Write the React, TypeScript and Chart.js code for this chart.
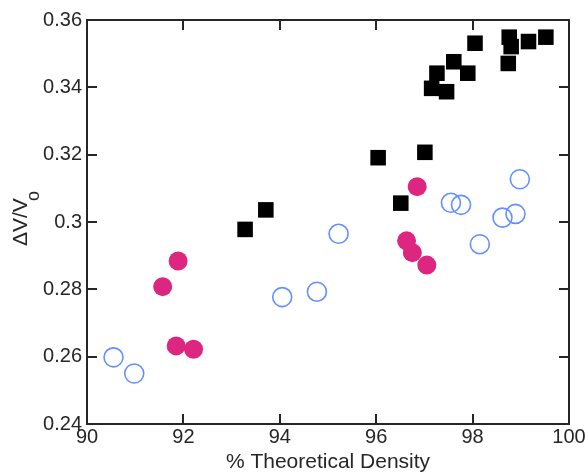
import React, { useEffect, useRef } from "react";
import { Chart, registerables } from "chart.js";

Chart.register(...registerables);

// Dense (black squares)
const squareX = [93.28, 93.71, 96.04, 96.51, 97.01, 97.15, 97.26, 97.46, 97.61, 97.90, 98.05, 98.74, 98.76, 98.80, 99.16, 99.52];
const squareY = [0.2978, 0.3036, 0.3191, 0.3056, 0.3207, 0.3397, 0.3442, 0.3387, 0.3476, 0.3442, 0.3531, 0.3471, 0.3549, 0.3521, 0.3536, 0.3549];

// Pink filled circles
const pinkX = [91.57, 91.89, 91.85, 92.21, 96.63, 96.75, 97.05, 96.85];
const pinkY = [0.2808, 0.2884, 0.2632, 0.2622, 0.2944, 0.2909, 0.2872, 0.3105];

// Blue open circles
const blueX = [90.55, 90.98, 94.05, 94.77, 95.22, 97.55, 97.76, 98.15, 98.62, 98.89, 98.98];
const blueY = [0.2598, 0.2550, 0.2777, 0.2793, 0.2965, 0.3057, 0.3051, 0.2934, 0.3013, 0.3024, 0.3127];

const xTicks = [90, 92, 94, 96, 98, 100];
const yTicks = [0.24, 0.26, 0.28, 0.3, 0.32, 0.34, 0.36];

const xTitle = "% Theoretical Density";
const yTitleMain = "ΔV/V";
const yTitleSub = "o";

const FONT = '"Liberation Sans", Arial, Helvetica, sans-serif';
const AXIS = "#262626";

const toPts = (xs: number[], ys: number[]) => xs.map((x, i) => ({ x, y: ys[i] }));

const framePlugin = {
  id: "frame",
  beforeDatasetsDraw(chart: any) {
    const { ctx, chartArea, scales } = chart;
    const { left, right, top, bottom } = chartArea;
    const xs = scales.x;
    const ys = scales.y;
    const tl = 10;
    ctx.save();
    ctx.strokeStyle = AXIS;
    ctx.lineWidth = 2;
    ctx.beginPath();
    xTicks.forEach((v) => {
      const px = Math.round(xs.getPixelForValue(v));
      ctx.moveTo(px, bottom);
      ctx.lineTo(px, bottom - tl);
      ctx.moveTo(px, top);
      ctx.lineTo(px, top + tl);
    });
    yTicks.forEach((v) => {
      const py = Math.round(ys.getPixelForValue(v));
      ctx.moveTo(left, py);
      ctx.lineTo(left + tl, py);
      ctx.moveTo(right, py);
      ctx.lineTo(right - tl, py);
    });
    ctx.stroke();
    ctx.strokeRect(left, top, right - left, bottom - top);
    ctx.restore();
  },
  afterDraw(chart: any) {
    const { ctx } = chart;
    ctx.save();
    ctx.translate(27, 246);
    ctx.rotate(-Math.PI / 2);
    ctx.fillStyle = AXIS;
    ctx.textAlign = "left";
    ctx.textBaseline = "alphabetic";
    ctx.font = `21px ${FONT}`;
    ctx.fillText(yTitleMain, 0, 0);
    const w = ctx.measureText(yTitleMain).width;
    ctx.font = `18px ${FONT}`;
    ctx.fillText(yTitleSub, w - 3, 12);
    ctx.restore();
  },
};

export default function App() {
  const ref = useRef<HTMLCanvasElement | null>(null);
  useEffect(() => {
    document.body.style.margin = "0";
    const canvas = ref.current;
    if (!canvas) return;
    const chart = new Chart(canvas, {
      type: "scatter",
      data: {
        datasets: [
          {
            label: "squares",
            data: toPts(squareX, squareY),
            pointStyle: "rect",
            pointRadius: 11,
            backgroundColor: "#000000",
            borderColor: "#000000",
            borderWidth: 0,
          },
          {
            label: "blue",
            data: toPts(blueX, blueY),
            pointStyle: "circle",
            pointRadius: 9.5,
            backgroundColor: "rgba(0,0,0,0)",
            borderColor: "#648fff",
            borderWidth: 1.6,
          },
          {
            label: "pink",
            data: toPts(pinkX, pinkY),
            pointStyle: "circle",
            pointRadius: 9.5,
            backgroundColor: "#dc267f",
            borderColor: "#dc267f",
            borderWidth: 0,
          },
        ],
      },
      options: {
        responsive: false,
        animation: false,
        devicePixelRatio: 1,
        events: [],
        layout: { padding: { top: 20, right: 19, left: 0, bottom: 0 } },
        plugins: {
          legend: { display: false },
          tooltip: { enabled: false },
        },
        scales: {
          x: {
            type: "linear",
            min: 90,
            max: 100,
            afterBuildTicks: (s: any) => {
              s.ticks = xTicks.map((v) => ({ value: v }));
            },
            afterFit: (s: any) => {
              s.height = 51;
            },
            grid: { display: false, drawTicks: false },
            border: { display: false },
            ticks: {
              padding: 1,
              color: AXIS,
              font: { family: FONT, size: 20 },
              maxRotation: 0,
              callback: (v: any) => String(v),
            },
            title: {
              display: true,
              text: xTitle,
              color: AXIS,
              font: { family: FONT, size: 21 },
              padding: { top: 0, bottom: 0 },
            },
          },
          y: {
            type: "linear",
            min: 0.24,
            max: 0.36,
            afterBuildTicks: (s: any) => {
              s.ticks = yTicks.map((v) => ({ value: v }));
            },
            afterFit: (s: any) => {
              s.width = 87;
            },
            grid: { display: false, drawTicks: false },
            border: { display: false },
            ticks: {
              padding: 5,
              color: AXIS,
              font: { family: FONT, size: 20 },
              callback: (v: any) => String(+Number(v).toFixed(2)),
            },
          },
        },
      },
      plugins: [framePlugin],
    } as any);
    return () => chart.destroy();
  }, []);
  return (
    <div style={{ position: "fixed", left: 0, top: 0 }}>
      <canvas ref={ref} width={588} height={475} style={{ width: 588, height: 475, display: "block" }} />
    </div>
  );
}
